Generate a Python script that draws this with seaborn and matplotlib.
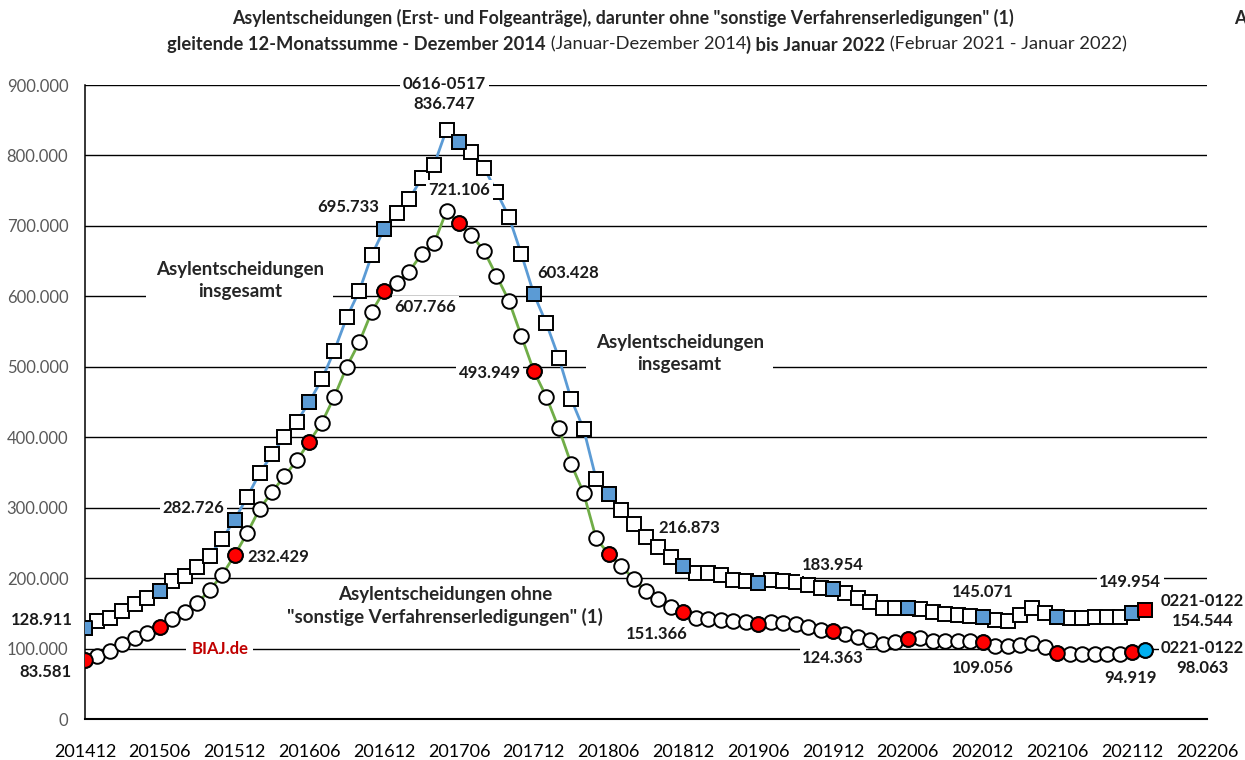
import numpy as np
import pandas as pd
import seaborn as sns
import matplotlib.pyplot as plt
from matplotlib.ticker import FuncFormatter

# x-axis tick labels (every 6 months, 201412 .. 202206)
tick_labels = ['201412', '201506', '201512', '201606', '201612', '201706',
               '201712', '201806', '201812', '201906', '201912', '202006',
               '202012', '202106', '202112', '202206']

# gleitende 12-Monatssumme in Tausend, 201412 .. 202201 (86 Monate)
insgesamt = [128.911, 139.6, 143.4, 153.8, 163.3, 171.3, 181.7, 195.9, 203.0, 215.3,
             231.8, 255.5, 282.726, 314.7, 348.8, 375.5, 400.8, 422.0, 450.5, 482.2,
             522.9, 570.2, 607.6, 658.3, 695.733, 717.9, 737.8, 767.6, 786.5, 836.747,
             819.6, 804.5, 782.7, 748.6, 713.1, 660.1, 603.428, 561.8, 513.0, 453.9,
             411.5, 340.7, 319.0, 296.7, 276.4, 258.8, 244.6, 230.4, 216.873, 207.7,
             206.8, 204.4, 197.3, 195.9, 193.5, 197.5, 196.0, 194.5, 190.0, 185.5,
             183.954, 178.4, 172.0, 166.0, 157.1, 157.5, 158.0, 155.5, 152.3, 149.5,
             147.6, 146.2, 145.071, 140.5, 139.6, 147.6, 157.1, 150.9, 144.4, 143.0,
             143.0, 144.4, 144.4, 145.3, 149.954, 154.544]

ohne_sonstige = [83.581, 89.4, 96.5, 106.5, 115.4, 121.7, 131.0, 141.5, 151.5, 164.2,
                 183.1, 204.4, 232.429, 263.6, 298.1, 322.0, 345.0, 367.0, 393.7, 420.7,
                 457.6, 500.2, 534.8, 578.2, 607.766, 619.4, 635.0, 660.1, 675.3, 721.106,
                 703.7, 687.1, 664.8, 629.4, 593.9, 543.7, 493.949, 457.6, 412.7, 362.0,
                 320.4, 256.5, 234.2, 217.6, 198.8, 181.7, 169.9, 158.6, 151.366, 143.0,
                 141.5, 140.5, 139.6, 138.1, 135.5, 137.5, 136.3, 134.9, 130.5, 126.0,
                 124.363, 120.7, 116.5, 112.0, 107.0, 110.0, 113.1, 114.6, 111.0, 111.0,
                 111.0, 111.0, 109.056, 103.6, 103.6, 105.0, 108.3, 101.8, 94.1, 92.3,
                 92.3, 92.3, 92.3, 92.3, 94.919, 98.063]

BLUE = '#5B9BD5'
GREEN = '#70AD47'
RED = '#FF0000'
CYAN = '#00B0F0'

df = pd.DataFrame({'monat': np.arange(len(insgesamt)),
                   'insgesamt': np.array(insgesamt) * 1000,
                   'ohne': np.array(ohne_sonstige) * 1000})
last = len(df) - 1
hl = df[(df.monat % 6 == 0) & (df.monat != last)]
end = df[df.monat == last]

sns.set_theme(style='white')
plt.rcParams['font.family'] = ['Lato', 'DejaVu Sans']

fig = plt.figure(figsize=(12.45, 7.6), dpi=100)
ax = fig.add_axes([85 / 1245, 41 / 760, 1122 / 1245, 634 / 760])

ms = 10.5
sns.lineplot(data=df, x='monat', y='insgesamt', color=BLUE, lw=2.0, marker='s',
             markersize=ms, markerfacecolor='white', markeredgecolor='black',
             markeredgewidth=1.4, ax=ax, zorder=3)
sns.lineplot(data=df, x='monat', y='ohne', color=GREEN, lw=2.0, marker='o',
             markersize=ms, markerfacecolor='white', markeredgecolor='black',
             markeredgewidth=1.4, ax=ax, zorder=3)
sns.scatterplot(data=hl, x='monat', y='insgesamt', marker='s', s=ms ** 2, color=BLUE,
                edgecolor='black', linewidth=1.4, ax=ax, zorder=4)
sns.scatterplot(data=hl, x='monat', y='ohne', marker='o', s=ms ** 2, color=RED,
                edgecolor='black', linewidth=1.4, ax=ax, zorder=4)
sns.scatterplot(data=end, x='monat', y='insgesamt', marker='s', s=ms ** 2, color=RED,
                edgecolor='black', linewidth=1.4, ax=ax, zorder=4)
sns.scatterplot(data=end, x='monat', y='ohne', marker='o', s=ms ** 2, color=CYAN,
                edgecolor='black', linewidth=1.4, ax=ax, zorder=4)

ax.set_xlim(0, 90)
ax.set_ylim(0, 900000)
ax.set_xticks(np.arange(0, 91, 6))
ax.set_xticklabels(tick_labels)
ax.set_yticks(np.arange(0, 900001, 100000))
ax.yaxis.set_major_formatter(FuncFormatter(lambda v, _: f"{v:,.0f}".replace(',', '.')))
ax.set_xlabel('')
ax.set_ylabel('')
ax.yaxis.grid(True, color='black', lw=1.0)
ax.set_axisbelow(True)
for s in ['top', 'right']:
    ax.spines[s].set_visible(False)
ax.spines['left'].set_color('black')
ax.spines['left'].set_linewidth(1.1)
ax.spines['bottom'].set_color('black')
ax.spines['bottom'].set_linewidth(1.5)
ax.tick_params(axis='x', direction='in', length=5, width=1.2, color='black', pad=18,
               labelsize=13, labelcolor='black')
ax.tick_params(axis='y', length=0, pad=12, labelsize=12, labelcolor='#595959')

# data labels: (series column, month index, dx px, dy px, prefix)
label_specs = [
    ('insgesamt', 0, -43, 8, ''), ('insgesamt', 12, -41, 12, ''),
    ('insgesamt', 24, -36, 22, ''), ('insgesamt', 29, -2, 36, '0616-0517\n'),
    ('insgesamt', 36, 34, 21, ''), ('insgesamt', 48, 6, 38, ''),
    ('insgesamt', 60, 0, 24, ''), ('insgesamt', 72, 0, 25, ''),
    ('insgesamt', 84, -2, 31, ''), ('insgesamt', 85, 58, -1, '0221-0122\n'),
    ('ohne', 0, -40, -12, ''), ('ohne', 12, 44, -2, ''),
    ('ohne', 24, 41, -16, ''), ('ohne', 29, 13, 21, ''),
    ('ohne', 36, -44, -2, ''), ('ohne', 48, -27, -22, ''),
    ('ohne', 60, 0, -27, ''), ('ohne', 72, 0, -26, ''),
    ('ohne', 84, -2, -26, ''), ('ohne', 85, 58, -8, '0221-0122\n'),
]
for col, i, dx, dy, pre in label_specs:
    v = df.loc[i, col]
    txt = pre + f"{v:,.0f}".replace(',', '.')
    ax.annotate(txt, xy=(i, v), xytext=(dx, dy), textcoords='offset pixels',
                ha='center', va='center', fontsize=12, fontweight='bold',
                color='#1a1a1a', linespacing=1.3, zorder=6,
                bbox=dict(boxstyle='square,pad=0.15', fc='white', ec='none'))

box = dict(boxstyle='square,pad=0.5', fc='white', ec='none')
ax.text(0.138, 0.691, 'Asylentscheidungen\ninsgesamt', transform=ax.transAxes,
        ha='center', va='center', fontsize=13.5, fontweight='bold', linespacing=1.35,
        bbox=box, zorder=6)
ax.text(0.530, 0.577, 'Asylentscheidungen\ninsgesamt', transform=ax.transAxes,
        ha='center', va='center', fontsize=13.5, fontweight='bold', linespacing=1.35,
        bbox=box, zorder=6)
ax.text(0.321, 0.178, 'Asylentscheidungen ohne\n"sonstige Verfahrenserledigungen" (1)',
        transform=ax.transAxes, ha='center', va='center', fontsize=13.5,
        fontweight='bold', linespacing=1.35,
        bbox=dict(boxstyle='square,pad=0.15', fc='white', ec='none'), zorder=6)
ax.text(0.120, 0.110, 'BIAJ.de', transform=ax.transAxes, ha='center', va='center',
        fontsize=12, fontweight='bold', color='#C00000',
        bbox=dict(boxstyle='square,pad=0.3', fc='white', ec='none'), zorder=6)

# titles
fig.text(0.5, 0.976, 'Asylentscheidungen (Erst- und Folgeanträge), darunter ohne '
         '"sonstige Verfahrenserledigungen" (1)', ha='center', va='center',
         fontsize=12.8, fontweight='bold')
fig.text(0.9965, 0.976, 'A', ha='center', va='center', fontsize=12.8, fontweight='bold')

parts = [('gleitende 12-Monatssumme - Dezember 2014', 'bold'),
         (' (Januar-Dezember 2014', 'normal'),
         (') bis Januar 2022', 'bold'),
         (' (Februar 2021 - Januar 2022)', 'normal')]
renderer = fig.canvas.get_renderer()
texts = []
for s, w in parts:
    t = fig.text(0, 0.941, s, ha='left', va='center', fontsize=13.2, fontweight=w)
    texts.append(t)
widths = [t.get_window_extent(renderer).width for t in texts]
x0 = 647 - sum(widths) / 2
for t, w in zip(texts, widths):
    t.set_x(x0 / fig.bbox.width)
    x0 += w

fig.savefig('out.png', dpi=100)
